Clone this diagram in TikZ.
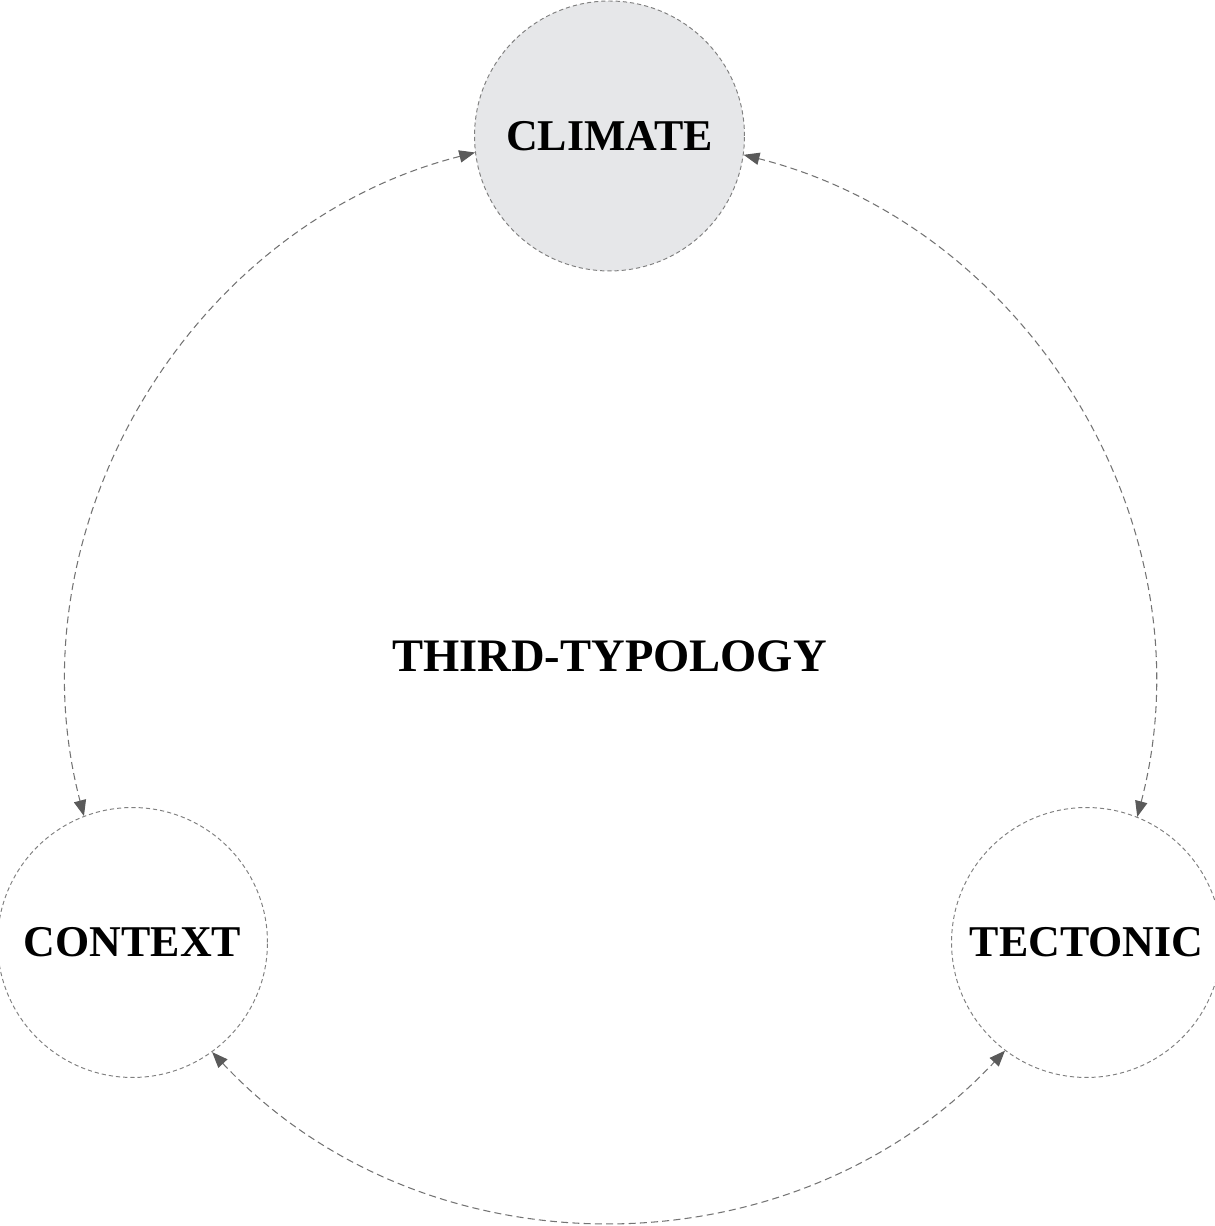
\documentclass[tikz,border=0pt]{standalone}
\usepackage{fontspec}
\setmainfont{Liberation Serif}
\usepackage{tikz}
\usetikzlibrary{arrows.meta}
\definecolor{climfill}{RGB}{230,231,233}
\definecolor{ringgray}{RGB}{128,128,128}
\definecolor{linkgray}{RGB}{115,115,115}
\definecolor{tipgray}{RGB}{90,90,90}

\begin{document}
\begin{tikzpicture}[x=0.02cm,y=0.02cm,
    typo/.style={circle,draw=ringgray,line width=0.55pt,dash pattern=on 2.4pt off 1.7pt,
        minimum size=5.4cm,inner sep=0pt,font=\fontsize{25}{29}\selectfont\bfseries},
    link/.style={draw=linkgray,line width=0.6pt,dash pattern=on 4pt off 2.4pt,looseness=0.985,
        {Triangle[length=9pt,width=7pt,color=tipgray]}-{Triangle[length=9pt,width=7pt,color=tipgray]}}]
        \useasboundingbox (0,0) rectangle (1214,1226);

        \node[typo,fill=climfill] (climate) at (609.5,1090) {CLIMATE};
        \node[typo] (context) at (132.5,283.5) {CONTEXT};
        \node[typo] (tectonic) at (1086.5,283.5) {TECTONIC};
        \node[font=\fontsize{26.5}{31}\selectfont\bfseries] (third) at (609.5,570) {THIRD-TYPOLOGY};

        \draw[link] (climate.187.13) to[out=194.26,in=104.66] (context.111.79);
        \draw[link,looseness=1] (context.306.05) to[out=313.18,in=226.82] (tectonic.233.95);
        \draw[link] (tectonic.68.21) to[out=75.34,in=345.74] (climate.352.87);
\end{tikzpicture}
\end{document}
